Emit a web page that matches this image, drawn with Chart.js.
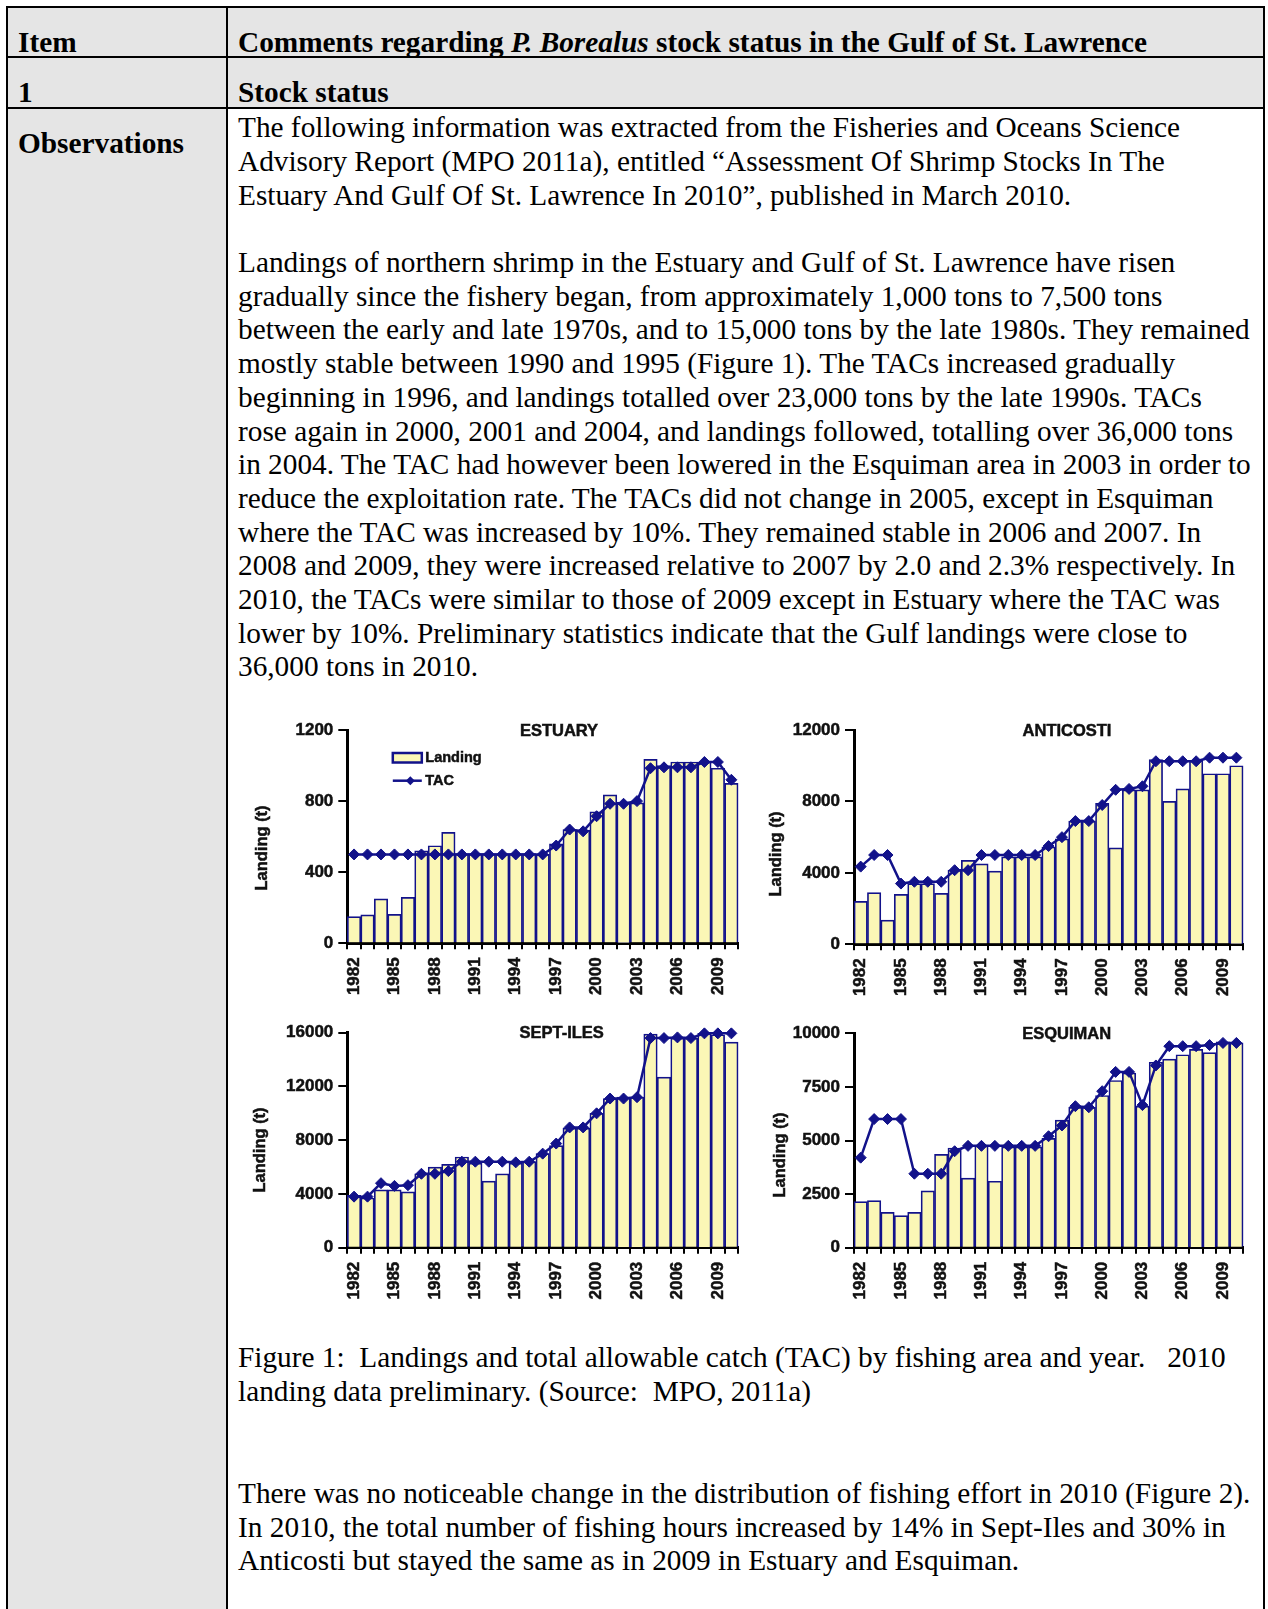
<!DOCTYPE html>
<html>
<head>
<meta charset="utf-8">
<script src="https://cdn.jsdelivr.net/npm/chart.js@4.4.1/dist/chart.umd.min.js"></script>
<style>
  html, body { margin:0; padding:0; background:#fff; }
  body { width:1268px; height:1609px; position:relative; overflow:hidden; font-family:"Liberation Serif","Times New Roman",serif; color:#000; }
  .line { position:absolute; background:#000; }
  .gray { position:absolute; background:#e5e5e5; }
  .txt { position:absolute; font-size:29.3px; line-height:33.7px; white-space:nowrap; }
  .b { font-weight:bold; }
  canvas { position:absolute; }
</style>
</head>
<body>
<!-- table backgrounds -->
<div class="gray" style="left:8px; top:8px; width:218px; height:1601px;"></div>
<div class="gray" style="left:227px; top:8px; width:1036px; height:99px;"></div>
<!-- table lines -->
<div class="line" style="left:6px; top:6px; width:1259px; height:2px;"></div>
<div class="line" style="left:6px; top:56px; width:1259px; height:2px;"></div>
<div class="line" style="left:6px; top:107px; width:1259px; height:2px;"></div>
<div class="line" style="left:6px; top:6px; width:2px; height:1603px;"></div>
<div class="line" style="left:225.5px; top:6px; width:2px; height:1603px;"></div>
<div class="line" style="left:1263px; top:6px; width:2px; height:1603px;"></div>

<!-- header texts -->
<div class="txt b" style="left:18px; top:26px;">Item</div>
<div class="txt b" style="left:238px; top:26px;">Comments regarding <i>P. Borealus</i> stock status in the Gulf of St. Lawrence</div>
<div class="txt b" style="left:18px; top:76px;">1</div>
<div class="txt b" style="left:238px; top:76px;">Stock status</div>
<div class="txt b" style="left:18px; top:126.5px;">Observations</div>

<div class="txt" style="left:238px; top:111.3px;">The following information was extracted from the Fisheries and Oceans Science<br>Advisory Report (MPO 2011a), entitled “Assessment Of Shrimp Stocks In The<br>Estuary And Gulf Of St. Lawrence In 2010”, published in March 2010.</div>

<div class="txt" style="left:238px; top:246px;">Landings of northern shrimp in the Estuary and Gulf of St. Lawrence have risen<br>gradually since the fishery began, from approximately 1,000 tons to 7,500 tons<br>between the early and late 1970s, and to 15,000 tons by the late 1980s. They remained<br>mostly stable between 1990 and 1995 (Figure 1). The TACs increased gradually<br>beginning in 1996, and landings totalled over 23,000 tons by the late 1990s. TACs<br>rose again in 2000, 2001 and 2004, and landings followed, totalling over 36,000 tons<br>in 2004. The TAC had however been lowered in the Esquiman area in 2003 in order to<br>reduce the exploitation rate. The TACs did not change in 2005, except in Esquiman<br>where the TAC was increased by 10%. They remained stable in 2006 and 2007. In<br>2008 and 2009, they were increased relative to 2007 by 2.0 and 2.3% respectively. In<br>2010, the TACs were similar to those of 2009 except in Estuary where the TAC was<br>lower by 10%. Preliminary statistics indicate that the Gulf landings were close to<br>36,000 tons in 2010.</div>

<div class="txt" style="left:238px; top:1341.3px;">Figure 1:&nbsp; Landings and total allowable catch (TAC) by fishing area and year. &nbsp; 2010<br>landing data preliminary. (Source:&nbsp; MPO, 2011a)</div>

<div class="txt" style="left:238px; top:1477px;">There was no noticeable change in the distribution of fishing effort in 2010 (Figure 2).<br>In 2010, the total number of fishing hours increased by 14% in Sept-Iles and 30% in<br>Anticosti but stayed the same as in 2009 in Estuary and Esquiman.</div>

<canvas id="cEst" width="520" height="295" style="left:240px; top:705px;"></canvas>
<canvas id="cAnt" width="515" height="295" style="left:750px; top:705px;"></canvas>
<canvas id="cSep" width="520" height="295" style="left:240px; top:1010px;"></canvas>
<canvas id="cEsq" width="515" height="295" style="left:750px; top:1010px;"></canvas>

<script>
// ---------- DATA ----------
const years = ['1982','1983','1984','1985','1986','1987','1988','1989','1990','1991','1992','1993','1994','1995','1996','1997','1998','1999','2000','2001','2002','2003','2004','2005','2006','2007','2008','2009','2010'];
const shownYears = ['1982','1985','1988','1991','1994','1997','2000','2003','2006','2009'];

const estuaryLanding = [150,160,250,163,259,520,549,624,505,505,505,505,505,505,500,560,640,637,740,835,795,790,1035,1000,1020,1020,1020,985,900];
const estuaryTAC     = [500,500,500,500,500,500,500,500,500,500,500,500,500,500,500,550,640,630,715,785,785,800,985,990,990,990,1020,1020,920];
const estuaryTicks   = [0,400,800,1200];

const anticostiLanding = [2400,2900,1350,2800,3400,3400,2850,4150,4700,4500,4100,4900,4900,4900,5450,5900,6900,6900,7900,5400,8650,8650,10350,8000,8700,10300,9550,9550,10000];
const anticostiTAC     = [4350,5000,5000,3400,3500,3500,3500,4150,4150,5000,5000,5000,5000,5000,5500,6000,6900,6900,7800,8650,8700,8850,10250,10250,10250,10250,10450,10450,10450];
const anticostiTicks   = [0,4000,8000,12000];

const septilesLanding = [3900,3700,4300,4300,4150,5500,6000,6200,6750,6300,4950,5500,6300,6400,7000,7600,8900,8900,10000,11100,11200,11200,15900,12700,15600,15600,15950,15850,15300];
const septilesTAC     = [3800,3800,4800,4600,4650,5500,5500,5700,6400,6400,6400,6400,6350,6400,7000,7750,8950,8950,10000,11100,11100,11200,15600,15600,15650,15600,15950,15950,15950];
const septilesTicks   = [0,4000,8000,12000,16000];

const esquimanLanding = [2150,2200,1650,1500,1650,2650,4350,4650,3250,4750,3100,4700,4700,4700,5100,5950,6550,6550,7100,7800,8150,6600,8650,8800,9000,9250,9100,9600,9550];
const esquimanTAC     = [4200,6000,6000,6000,3450,3450,3450,4500,4750,4750,4750,4750,4750,4750,5200,5700,6600,6550,7300,8200,8200,6650,8500,9400,9400,9400,9450,9550,9550];
const esquimanTicks   = [0,2500,5000,7500,10000];

// ---------- STYLE ----------
const NAVY = '#12128a';
const YELLOW = '#fbf7b6';
const SANS = '"Liberation Sans", Arial, sans-serif';
const INK = '#111';
const STROKE = 0.5;

function boldText(ctx, s, x, y) {
  ctx.fillText(s, x, y);
  ctx.lineWidth = STROKE; ctx.strokeStyle = INK; ctx.strokeText(s, x, y);
}

const overlay = {
  id: 'overlay',
  afterDatasetsDraw(chart, args, opts) {
    const ctx = chart.ctx, a = chart.chartArea;
    ctx.save();
    ctx.fillStyle = INK;
    ctx.font = 'bold 16.5px ' + SANS;
    ctx.textAlign = 'center';
    ctx.textBaseline = 'middle';
    boldText(ctx, opts.title, opts.titleX, a.top + 1);
    // y axis title
    ctx.save();
    ctx.translate(opts.yTitleX, opts.yTitleY);
    ctx.rotate(-Math.PI / 2);
    ctx.font = 'bold 16.5px ' + SANS;
    boldText(ctx, 'Landing (t)', 0, 0);
    ctx.restore();
    if (opts.legend) {
      const x0 = a.left + 45.5, y0 = a.top + 23;
      ctx.fillStyle = YELLOW; ctx.strokeStyle = NAVY; ctx.lineWidth = 2.5;
      ctx.fillRect(x0, y0, 29, 9.5);
      ctx.strokeRect(x0, y0, 29, 9.5);
      ctx.beginPath(); ctx.moveTo(x0, y0 + 27.7); ctx.lineTo(x0 + 29, y0 + 27.7); ctx.lineWidth = 2.5; ctx.stroke();
      const cx = x0 + 17.5, cy = y0 + 27.7;
      ctx.fillStyle = NAVY;
      ctx.beginPath(); ctx.moveTo(cx - 4.5, cy); ctx.lineTo(cx, cy - 4.5); ctx.lineTo(cx + 4.5, cy); ctx.lineTo(cx, cy + 4.5); ctx.closePath(); ctx.fill();
      ctx.fillStyle = INK;
      ctx.font = 'bold 14.5px ' + SANS;
      ctx.textAlign = 'left';
      boldText(ctx, 'Landing', x0 + 32.5, y0 + 5);
      boldText(ctx, 'TAC', x0 + 32.5, cy);
    }
    ctx.restore();
  }
};

function makeChart(id, g) {
  const cv = document.getElementById(id);
  const W = cv.width, H = cv.height;
  const padTop = g.top - g.cTop;
  const padRight = (g.cLeft + W) - g.right;
  const yWidth = g.left - g.cLeft;
  const xHeight = (g.cTop + H) - g.bottom;
  return new Chart(cv, {
    type: 'bar',
    data: {
      labels: years,
      datasets: [
        { type: 'line', label: 'TAC', data: g.tac, borderColor: NAVY, backgroundColor: NAVY, borderWidth: 2.5,
          pointStyle: 'rectRot', pointRadius: 5.5, pointBackgroundColor: NAVY, pointBorderColor: NAVY, pointBorderWidth: 1,
          tension: 0, order: 0, clip: false },
        { type: 'bar', label: 'Landing', data: g.landing, backgroundColor: YELLOW, borderColor: NAVY, borderWidth: 1.7,
          borderSkipped: 'bottom', categoryPercentage: 1, barPercentage: 1, order: 1, clip: false }
      ]
    },
    options: {
      responsive: false, animation: false,
      layout: { autoPadding: false, padding: { top: padTop, right: padRight, left: 0, bottom: 0 } },
      plugins: { legend: { display: false }, tooltip: { enabled: false },
                 overlay: { title: g.title, titleX: g.titleX - g.cLeft, legend: !!g.legend,
                            yTitleX: g.yTitleX - g.cLeft, yTitleY: g.yTitleY - g.cTop } },
      scales: {
        x: {
          offset: true,
          grid: { display: true, drawOnChartArea: false, drawTicks: true, tickLength: 6, color: '#000', lineWidth: 2, offset: true },
          border: { display: true, width: 3, color: '#000' },
          ticks: { autoSkip: false, minRotation: 90, maxRotation: 90, padding: 8, color: INK,
                   textStrokeColor: INK, textStrokeWidth: STROKE,
                   font: { family: SANS, size: 17, weight: 'bold' },
                   callback: function(v) { const l = this.getLabelForValue(v); return shownYears.includes(l) ? l : ''; } },
          afterFit: s => { s.height = xHeight; }
        },
        y: {
          min: 0, max: g.ticks[g.ticks.length - 1],
          afterBuildTicks: s => { s.ticks = g.ticks.map(v => ({ value: v })); },
          grid: { display: true, drawOnChartArea: false, drawTicks: true, tickLength: 9, color: '#000', lineWidth: 2 },
          border: { display: true, width: 3, color: '#000' },
          ticks: { padding: 5, color: INK, textStrokeColor: INK, textStrokeWidth: STROKE,
                   font: { family: SANS, size: 17, weight: 'bold' },
                   callback: v => String(v) },
          afterFit: s => { s.width = yWidth; }
        }
      }
    },
    plugins: [overlay]
  });
}

makeChart('cEst', { cLeft: 240, cTop: 705, left: 347.3, top: 730, right: 746, bottom: 943.3,
  landing: estuaryLanding, tac: estuaryTAC, ticks: estuaryTicks, title: 'ESTUARY', titleX: 559, legend: true,
  yTitleX: 262, yTitleY: 848 });
makeChart('cAnt', { cLeft: 750, cTop: 705, left: 854, top: 730, right: 1252.7, bottom: 944.3,
  landing: anticostiLanding, tac: anticostiTAC, ticks: anticostiTicks, title: 'ANTICOSTI', titleX: 1067,
  yTitleX: 776.7, yTitleY: 854 });
makeChart('cSep', { cLeft: 240, cTop: 1010, left: 347.3, top: 1032.7, right: 746, bottom: 1247.7,
  landing: septilesLanding, tac: septilesTAC, ticks: septilesTicks, title: 'SEPT-ILES', titleX: 561.7,
  yTitleX: 260.7, yTitleY: 1150 });
makeChart('cEsq', { cLeft: 750, cTop: 1010, left: 854, top: 1033.3, right: 1252.7, bottom: 1247.7,
  landing: esquimanLanding, tac: esquimanTAC, ticks: esquimanTicks, title: 'ESQUIMAN', titleX: 1066.7,
  yTitleX: 780, yTitleY: 1155 });
</script>
</body>
</html>
